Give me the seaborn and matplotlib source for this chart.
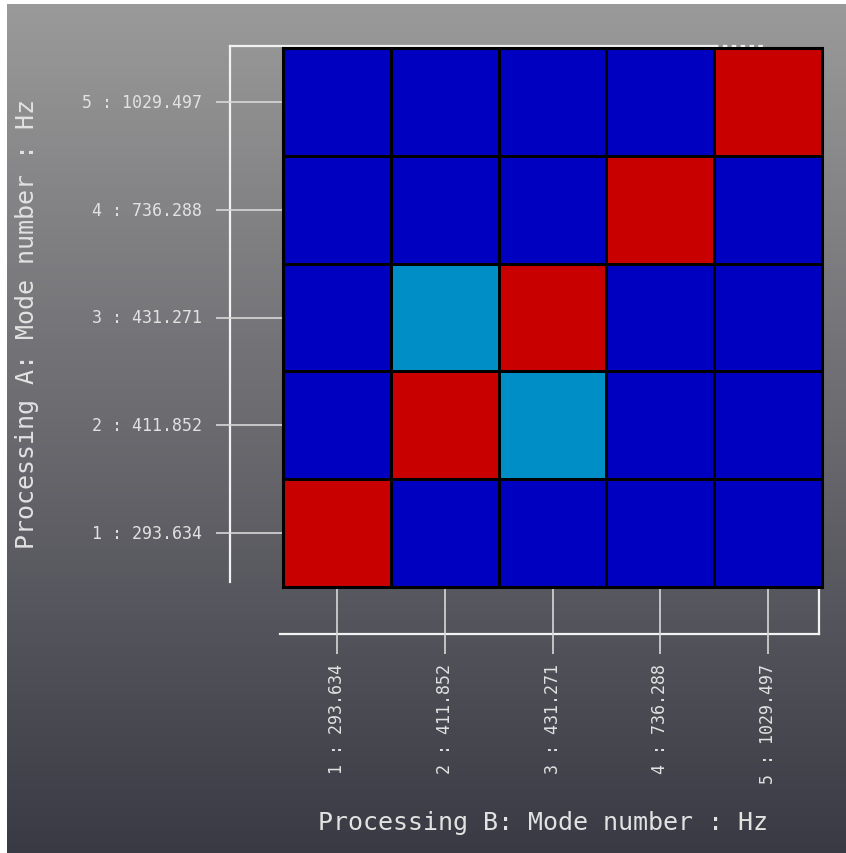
import numpy as np
import pandas as pd
import matplotlib
matplotlib.use("Agg")
import matplotlib.pyplot as plt
from matplotlib.colors import ListedColormap, BoundaryNorm, LinearSegmentedColormap
from matplotlib.lines import Line2D
import seaborn as sns

# Mode labels (index : frequency in Hz) for both processings
modes_a = ["1 : 293.634", "2 : 411.852", "3 : 431.271", "4 : 736.288", "5 : 1029.497"]
modes_b = ["1 : 293.634", "2 : 411.852", "3 : 431.271", "4 : 736.288", "5 : 1029.497"]

# MAC correlation values, rows = Processing A mode 1..5, cols = Processing B mode 1..5
mac_row1 = [1.00, 0.02, 0.02, 0.01, 0.01]
mac_row2 = [0.02, 1.00, 0.45, 0.01, 0.01]
mac_row3 = [0.02, 0.45, 1.00, 0.01, 0.01]
mac_row4 = [0.01, 0.01, 0.01, 1.00, 0.02]
mac_row5 = [0.01, 0.01, 0.01, 0.02, 1.00]

mac = pd.DataFrame([mac_row1, mac_row2, mac_row3, mac_row4, mac_row5],
                   index=modes_a, columns=modes_b)

# Discrete MAC colour bands: low (blue), medium (cyan), high (red)
band_colors = ["#0000c0", "#008ec6", "#c80000"]
band_edges = [0.0, 0.33, 0.66, 1.0]
cmap = ListedColormap(band_colors)
norm = BoundaryNorm(band_edges, cmap.N)

W, H = 846, 854
fig = plt.figure(figsize=(W / 100, H / 100), dpi=100)
fig.patch.set_facecolor("white")

# Vertical gradient backdrop
bg = fig.add_axes([7 / W, 0, 1 - 7 / W, 1 - 5 / H], zorder=0)
grad = np.linspace(0, 1, 256).reshape(-1, 1)
bg_cmap = LinearSegmentedColormap.from_list("bg", ["#9a9a9a", "#6a6a6f", "#3a3a45"])
bg.imshow(grad, aspect="auto", cmap=bg_cmap, extent=[0, 1, 1, 0])
bg.set_axis_off()

# MAC matrix
x0, x1, y0, y1 = 283, 822, 49, 588
ax = fig.add_axes([x0 / W, 1 - y1 / H, (x1 - x0) / W, (y1 - y0) / H], zorder=2)
sns.heatmap(mac, ax=ax, cmap=cmap, norm=norm, cbar=False,
            linewidths=1.8, linecolor="black", square=False)
ax.invert_yaxis()
ax.patch.set_alpha(0)

for side in ["left", "right", "top", "bottom"]:
    ax.spines[side].set_visible(True)
    ax.spines[side].set_color("black")
    ax.spines[side].set_linewidth(2.2)

txt_color = "#e2e2e2"
font = dict(family="DejaVu Sans Mono", color=txt_color)

ax.tick_params(axis="both", which="major", length=48, width=1.2, color="#d8d8d8",
               left=True, bottom=True, top=False, right=False)
ax.tick_params(axis="y", pad=10)
ax.tick_params(axis="x", pad=7)
ax.set_yticklabels(modes_a, rotation=0, fontsize=12, **font)
ax.set_xticklabels(modes_b, rotation=90, fontsize=12, **font)

ax.set_xlabel("Processing B: Mode number : Hz", fontsize=18, **font)
ax.set_ylabel("Processing A: Mode number : Hz", fontsize=18, **font)
ax.xaxis.set_label_coords((543 - x0) / (x1 - x0), -(811 - y1) / (y1 - y0))
ax.yaxis.set_label_coords(-(x0 - 39) / (x1 - x0), 0.49)

# White box frame around the matrix
frame_kw = dict(color="#f2f2f2", lw=1.6, transform=ax.transAxes, clip_on=False, zorder=1)
lx = -(x0 - 230) / (x1 - x0)
by = -(635 - y1) / (y1 - y0)
ax.add_line(Line2D([lx, lx], [0.01, 1.003], **frame_kw))
ax.add_line(Line2D([lx, 0.80], [1.003, 1.003], **frame_kw))
ax.add_line(Line2D([0.80, 0.89], [1.003, 1.003], ls=(0, (2, 2)), **frame_kw))
ax.add_line(Line2D([-0.005, 0.995], [by, by], **frame_kw))
ax.add_line(Line2D([0.995, 0.995], [by, -0.005], **frame_kw))

fig.savefig("out.png", dpi=100, facecolor=fig.get_facecolor())
